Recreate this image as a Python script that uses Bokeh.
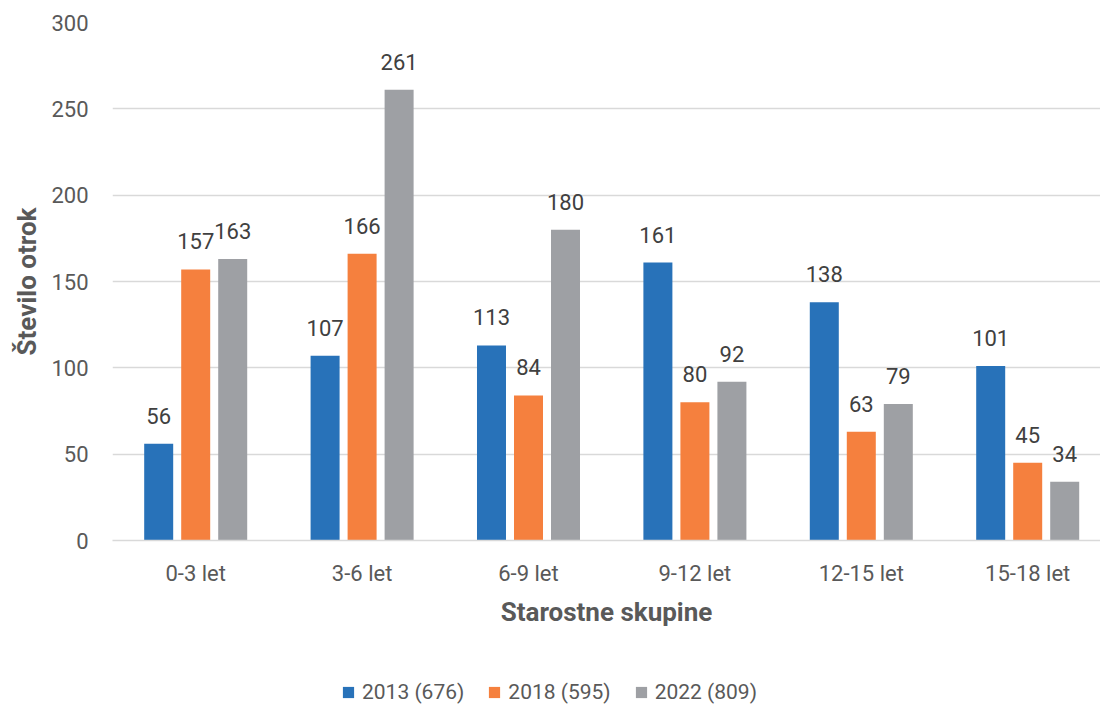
from bokeh.plotting import figure
from bokeh.layouts import column
from bokeh.models import Range1d, FixedTicker, ColumnDataSource, Legend, LegendItem
from bokeh.core.properties import value
from bokeh.embed import file_html
from bokeh.resources import INLINE

categories = ["0-3 let", "3-6 let", "6-9 let", "9-12 let", "12-15 let", "15-18 let"]
series_names = ["2013 (676)", "2018 (595)", "2022 (809)"]
v2013 = [56, 107, 113, 161, 138, 101]
v2018 = [157, 166, 84, 80, 63, 45]
v2022 = [163, 261, 180, 92, 79, 34]
colors = ["#2872b9", "#f5803e", "#9ea0a4"]
y_ticks = [0, 50, 100, 150, 200, 250, 300]

FONT = "Roboto"
TXT = "#595959"

p = figure(width=1100, height=640, output_backend="svg", toolbar_location=None,
           x_range=Range1d(0, 988 / 166.4), y_range=Range1d(0, 300),
           min_border_left=112, min_border_right=0, min_border_top=22, min_border_bottom=100)
p.outline_line_color = None
p.background_fill_color = "white"
p.border_fill_color = "white"

offsets = [-0.2224, 0.0, 0.2224]
bar_w = 29 / 166.4
for vals, name, col, off in zip([v2013, v2018, v2022], series_names, colors, offsets):
    xs = [i + 0.5 + off for i in range(len(categories))]
    src = ColumnDataSource(dict(x=xs, top=vals, lab=[str(v) for v in vals]))
    p.vbar(x="x", top="top", width=bar_w, bottom=0, source=src, fill_color=col,
           line_color=None)
    p.text(x="x", y="top", text="lab", source=src, text_align="center",
           text_baseline="middle", y_offset=-28, text_font=value(FONT),
           text_font_size="22px", text_color="#404040")

# axes
p.xaxis.ticker = FixedTicker(ticks=[i + 0.5 for i in range(len(categories))])
p.xaxis.major_label_overrides = {i + 0.5: c for i, c in enumerate(categories)}
p.xaxis.axis_label = "Starostne skupine"
p.yaxis.ticker = FixedTicker(ticks=y_ticks)
p.yaxis.axis_label = "Število otrok"
for ax in (p.xaxis[0], p.yaxis[0]):
    ax.major_tick_line_color = None
    ax.minor_tick_line_color = None
    ax.major_label_text_font = FONT
    ax.major_label_text_font_size = "22px"
    ax.major_label_text_color = TXT
    ax.axis_label_text_font = FONT
    ax.axis_label_text_font_size = "26px"
    ax.axis_label_text_font_style = "bold"
    ax.axis_label_text_color = TXT
p.yaxis.axis_line_color = None
p.yaxis.major_label_standoff = 18
p.yaxis.axis_label_standoff = 6
p.xaxis.axis_line_color = "#d9d9d9"
p.xaxis.axis_line_width = 1.5
p.xaxis.major_label_standoff = 14
p.xaxis.axis_label_standoff = 8

p.xgrid.grid_line_color = None
p.ygrid.grid_line_color = "#d9d9d9"
p.ygrid.grid_line_width = 1.5

# legend strip (hidden swatch renderers; only the legend is shown)
pl = figure(width=1100, height=64, output_backend="svg", toolbar_location=None,
            x_range=Range1d(0, 1), y_range=Range1d(0, 1),
            x_axis_type=None, y_axis_type=None,
            min_border_left=0, min_border_right=0, min_border_top=0, min_border_bottom=0)
pl.outline_line_color = None
pl.xgrid.grid_line_color = None
pl.ygrid.grid_line_color = None
items = []
for name, col in zip(series_names, colors):
    r = pl.vbar(x=[-5], top=[-4], bottom=-5, width=0.1, fill_color=col, line_color=None)
    r.visible = False
    items.append(LegendItem(label=name, renderers=[r]))
lg = Legend(items=items, orientation="horizontal", location=(229, 0),
            padding=0, margin=0, spacing=23, border_line_color=None,
            background_fill_alpha=0, glyph_width=14, glyph_height=14,
            inactive_fill_alpha=0,
            label_standoff=7, label_text_font=FONT, label_text_font_size="21px",
            label_text_color=TXT)
pl.add_layout(lg)

layout = column(p, pl, spacing=0)
open("out.html", "w").write(file_html(layout, INLINE))
